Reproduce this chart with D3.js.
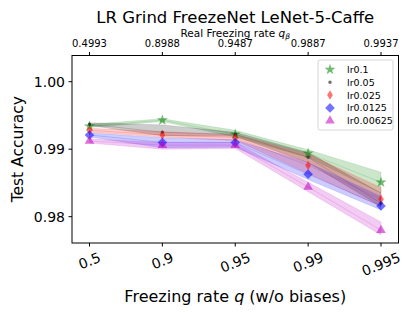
<!DOCTYPE html>
<html>
<head>
<meta charset="utf-8">
<script src="https://cdn.jsdelivr.net/npm/d3@7"></script>
<style>
  body { margin: 0; background: #fff; }
  svg text { font-family: "DejaVu Sans", sans-serif; fill: #000; }
</style>
</head>
<body>
<div class="wrapper-svg"></div>
<script>
// categories (bottom axis) and real freezing rates (top axis)
var qLabels = ['0.5', '0.9', '0.95', '0.99', '0.995'];
var qRealLabels = ['0.4993', '0.8988', '0.9487', '0.9887', '0.9937'];
var yTicks = [0.98, 0.99, 1.00];

var seriesNames = ['lr0.1', 'lr0.05', 'lr0.025', 'lr0.0125', 'lr0.00625'];

// mean test accuracy per freezing rate
var acc01     = [0.9934, 0.9943, 0.9922, 0.9894, 0.9851];
var acc005    = [0.9937, 0.9925, 0.9922, 0.9888, 0.9820];
var acc0025   = [0.9928, 0.9921, 0.9917, 0.9876, 0.9826];
var acc00125  = [0.9921, 0.9910, 0.9910, 0.9863, 0.9816];
var acc000625 = [0.9912, 0.9906, 0.9906, 0.9844, 0.9780];

// lower / upper edge of the shaded spread
var lo01     = [0.9932, 0.9941, 0.9918, 0.9888, 0.9835];
var hi01     = [0.9937, 0.9945, 0.9928, 0.9899, 0.9866];
var lo005    = [0.9935, 0.9920, 0.9919, 0.9880, 0.9815];
var hi005    = [0.9939, 0.9936, 0.9925, 0.9895, 0.9835];
var lo0025   = [0.9925, 0.9918, 0.9913, 0.9864, 0.9815];
var hi0025   = [0.9931, 0.9926, 0.9921, 0.9893, 0.9843];
var lo00125  = [0.9918, 0.9902, 0.9903, 0.9855, 0.9810];
var hi00125  = [0.9924, 0.9917, 0.9914, 0.9880, 0.9830];
var lo000625 = [0.9909, 0.9900, 0.9901, 0.9837, 0.9773];
var hi000625 = [0.9915, 0.9910, 0.9910, 0.9851, 0.9792];

var means = [acc01, acc005, acc0025, acc00125, acc000625];
var lows  = [lo01, lo005, lo0025, lo00125, lo000625];
var highs = [hi01, hi005, hi0025, hi00125, hi000625];
var colors = ['#008000', '#000000', '#ff0000', '#0000ff', '#bf00bf'];
var symbols = ['star', 'dot', 'thinDiamond', 'diamond', 'triangle'];
var sizes = [38, 10, 40, 46, 40];

var W = 415, H = 312;
var mLeft = 72, mRight = 398.5, mTop = 55.5, mBottom = 243;

var svg = d3.select('.wrapper-svg')
    .append('svg')
    .attr('width', W)
    .attr('height', H);

var x = d3.scaleLinear().domain([-0.24, 4.24]).range([mLeft, mRight]);
var y = d3.scaleLinear().domain([0.9761, 1.00388]).range([mBottom, mTop]);

// custom thin diamond like matplotlib 'd'
var thinDiamond = {
    draw: function(ctx, size) {
        var h = Math.sqrt(size) * 0.75, w = h * 0.6;
        ctx.moveTo(0, -h); ctx.lineTo(w, 0); ctx.lineTo(0, h); ctx.lineTo(-w, 0); ctx.closePath();
    }
};
function symbolPath(i) {
    var t = {star: d3.symbolStar, dot: d3.symbolCircle, thinDiamond: thinDiamond,
             diamond: d3.symbolSquare, triangle: d3.symbolTriangle}[symbols[i]];
    return d3.symbol().type(t).size(sizes[i])();
}
function symbolRotate(i) {
    return symbols[i] === 'diamond' ? ' rotate(45)' : '';
}

var plot = svg.append('g');

// shaded bands
var area = d3.area()
    .x(function(d) { return x(d.i); })
    .y0(function(d) { return y(d.lo); })
    .y1(function(d) { return y(d.hi); });
var line = d3.line()
    .x(function(d) { return x(d.i); })
    .y(function(d) { return y(d.m); });

for(var s = 0; s < seriesNames.length; s++) {
    var pts = means[s].map(function(m, i) { return {i: i, m: m, lo: lows[s][i], hi: highs[s][i]}; });
    plot.append('path')
        .attr('d', area(pts))
        .attr('fill', colors[s])
        .attr('fill-opacity', 0.2)
        .attr('stroke', colors[s])
        .attr('stroke-opacity', 0.15)
        .attr('stroke-width', 0.8);
    plot.append('path')
        .attr('d', line(pts))
        .attr('fill', 'none')
        .attr('stroke', colors[s])
        .attr('stroke-opacity', 0.2)
        .attr('stroke-width', 0.8);
}

for(var s = 0; s < seriesNames.length; s++) {
    plot.selectAll('.mk' + s)
        .data(means[s])
        .enter()
        .append('path')
        .attr('d', symbolPath(s))
        .attr('transform', function(d, i) { return 'translate(' + x(i) + ',' + y(d) + ')' + symbolRotate(s); })
        .attr('fill', colors[s])
        .attr('fill-opacity', 0.55);
}

// spines
svg.append('rect')
    .attr('x', mLeft).attr('y', mTop)
    .attr('width', mRight - mLeft).attr('height', mBottom - mTop)
    .attr('fill', 'none').attr('stroke', '#000').attr('stroke-width', 1);

// bottom axis
var idx = d3.range(qLabels.length);
var gx = svg.append('g');
gx.selectAll('line').data(idx).enter().append('line')
    .attr('x1', function(d) { return x(d); }).attr('x2', function(d) { return x(d); })
    .attr('y1', mBottom).attr('y2', mBottom + 3.5)
    .attr('stroke', '#000');
var ang = 22, rad = ang * Math.PI / 180;
gx.selectAll('text').data(idx).enter().append('text')
    .text(function(d) { return qLabels[d]; })
    .style('font-size', '14px')
    .attr('text-anchor', 'middle')
    .attr('dominant-baseline', 'central')
    .each(function(d) {
        var w = this.getComputedTextLength(), h = 14 * 1.0;
        var halfH = (w * Math.sin(rad) + h * Math.cos(rad)) / 2;
        d3.select(this).attr('transform', 'translate(' + x(d) + ',' + (mBottom + 7 + halfH) + ') rotate(' + (-ang) + ')');
    });

var xLabel = svg.append('text')
    .style('font-size', '16px')
    .attr('x', (mLeft + mRight) / 2)
    .attr('y', 302)
    .attr('text-anchor', 'middle');
xLabel.append('tspan').text('Freezing rate ');
xLabel.append('tspan').style('font-style', 'italic').text('q');
xLabel.append('tspan').text(' (w/o biases)');

// top axis
var gt = svg.append('g');
gt.selectAll('line').data(idx).enter().append('line')
    .attr('x1', function(d) { return x(d); }).attr('x2', function(d) { return x(d); })
    .attr('y1', mTop).attr('y2', mTop - 3.5)
    .attr('stroke', '#000');
gt.selectAll('text').data(idx).enter().append('text')
    .text(function(d) { return qRealLabels[d]; })
    .style('font-size', '10px')
    .attr('text-anchor', 'middle')
    .attr('x', function(d) { return x(d); })
    .attr('y', mTop - 9);

var realLabel = svg.append('text')
    .style('font-size', '10.5px')
    .attr('x', (mLeft + mRight) / 2)
    .attr('y', 36.5)
    .attr('text-anchor', 'middle');
realLabel.append('tspan').text('Real Freezing rate ');
realLabel.append('tspan').style('font-style', 'italic').text('q');
realLabel.append('tspan').style('font-style', 'italic').style('font-size', '7.5px').attr('dy', 2).text('β');

svg.append('text')
    .text('LR Grind FreezeNet LeNet-5-Caffe')
    .style('font-size', '16.5px')
    .attr('x', (mLeft + mRight) / 2)
    .attr('y', 23)
    .attr('text-anchor', 'middle');

// left axis
var gy = svg.append('g');
gy.selectAll('line').data(yTicks).enter().append('line')
    .attr('x1', mLeft - 3.5).attr('x2', mLeft)
    .attr('y1', function(d) { return y(d); }).attr('y2', function(d) { return y(d); })
    .attr('stroke', '#000');
gy.selectAll('text').data(yTicks).enter().append('text')
    .text(function(d) { return d3.format('.2f')(d); })
    .style('font-size', '14px')
    .attr('text-anchor', 'end')
    .attr('dominant-baseline', 'central')
    .attr('x', mLeft - 7)
    .attr('y', function(d) { return y(d); });

svg.append('text')
    .text('Test Accuracy')
    .style('font-size', '15.5px')
    .attr('text-anchor', 'middle')
    .attr('transform', 'translate(23,' + ((mTop + mBottom) / 2) + ') rotate(-90)');

// legend
var lg = svg.append('g').attr('transform', 'translate(318,60)');
lg.append('rect')
    .attr('width', 75).attr('height', 70).attr('rx', 2)
    .attr('fill', '#fff').attr('fill-opacity', 0.8)
    .attr('stroke', '#ccc').attr('stroke-width', 0.8);
for(var s = 0; s < seriesNames.length; s++) {
    var ly = 9.5 + s * 12.8;
    lg.append('path')
        .attr('d', symbolPath(s))
        .attr('transform', 'translate(12,' + ly + ')' + symbolRotate(s))
        .attr('fill', colors[s])
        .attr('fill-opacity', 0.55);
    lg.append('text')
        .text(seriesNames[s])
        .style('font-size', '9.5px')
        .attr('x', 29)
        .attr('y', ly)
        .attr('dominant-baseline', 'central');
}
</script>
</body>
</html>
